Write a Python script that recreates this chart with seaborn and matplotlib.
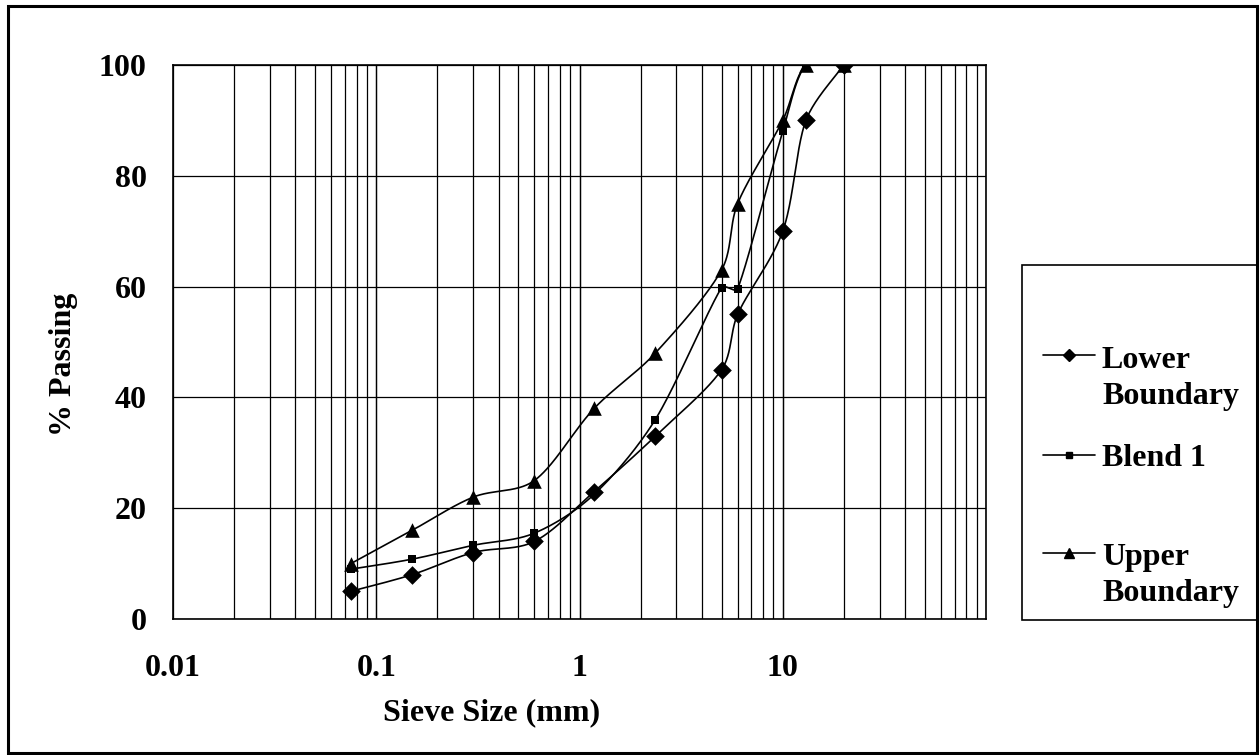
import numpy as np
import pandas as pd
import matplotlib
matplotlib.use("Agg")
import matplotlib.pyplot as plt
from matplotlib.ticker import LogLocator, NullFormatter, FixedLocator
from matplotlib.patches import Rectangle
from matplotlib.lines import Line2D
import seaborn as sns

# Sieve sizes (mm) and percentage passing for each gradation
sieve_mm = [0.075, 0.15, 0.3, 0.6, 1.18, 2.36, 5, 6, 10, 13, 20]
lower_boundary = [5, 8, 12, 14, 23, 33, 45, 55, 70, 90, 100]
blend_1 = [9, 10.8, 13.3, 15.5, 22.5, 36, 59.8, 59.6, 88, 100, 100]
upper_boundary = [10, 16, 22, 25, 38, 48, 63, 75, 90, 100, 100]

series_names = ["Lower\nBoundary", "Blend 1", "Upper\nBoundary"]
x_tick_values = [0.01, 0.1, 1, 10]
x_tick_labels = ["0.01", "0.1", "1", "10"]
y_tick_values = [0, 20, 40, 60, 80, 100]

sns.set_theme(style="white")
plt.rcParams["font.family"] = ["Liberation Serif", "DejaVu Serif"]
plt.rcParams["font.weight"] = "bold"

FS = 23
W, H = 1260, 755


def smooth_curve(xs, ys, n=40, sx=203.0, sy=5.55):
    """Bezier smoothing (Catmull-Rom style) in log-x screen-like space."""
    P = np.column_stack([np.log10(xs) * sx, np.asarray(ys, float) * sy])
    out = []
    t = np.linspace(0, 1, n)[:, None]
    for i in range(len(P) - 1):
        p0 = P[i - 1] if i > 0 else P[i]
        p1, p2 = P[i], P[i + 1]
        p3 = P[i + 2] if i + 2 < len(P) else P[i + 1]
        d = np.linalg.norm(p2 - p1)
        t1 = (p2 - p0) / 6.0
        t2 = (p3 - p1) / 6.0
        # keep handles no longer than a third of the segment to avoid loops
        for tv in (t1, t2):
            nrm = np.linalg.norm(tv)
            if nrm > d / 3.0 and nrm > 0:
                tv *= (d / 3.0) / nrm
        c1 = p1 + t1
        c2 = p2 - t2
        seg = (1 - t) ** 3 * p1 + 3 * (1 - t) ** 2 * t * c1 + 3 * (1 - t) * t ** 2 * c2 + t ** 3 * p2
        out.append(seg if i == 0 else seg[1:])
    S = np.vstack(out)
    return 10 ** (S[:, 0] / sx), S[:, 1] / sy


fig = plt.figure(figsize=(W / 100, H / 100), dpi=100)
fig.patch.set_facecolor("white")

# plot area in pixel positions
L, R, T, B = 173, 986, 65, 619
ax = fig.add_axes([L / W, 1 - B / H, (R - L) / W, (B - T) / H])
ax.set_facecolor("white")

marker_styles = {"Lower\nBoundary": ("D", 9.5), "Blend 1": ("s", 5.5), "Upper\nBoundary": ("^", 10.5)}
values = {"Lower\nBoundary": lower_boundary, "Blend 1": blend_1, "Upper\nBoundary": upper_boundary}

for name in series_names:
    ys = values[name]
    cx, cy = smooth_curve(sieve_mm, ys)
    curve = pd.DataFrame({"size": cx, "passing": cy})
    sns.lineplot(data=curve, x="size", y="passing", sort=False, estimator=None,
                 color="black", lw=1.2, ax=ax, zorder=3)
    pts = pd.DataFrame({"size": sieve_mm, "passing": ys})
    m, ms = marker_styles[name]
    sns.scatterplot(data=pts, x="size", y="passing", marker=m, s=ms ** 2,
                    color="black", edgecolor="black", linewidth=0, ax=ax, zorder=4)

ax.set_xscale("log")
ax.set_xlim(0.01, 100)
ax.set_ylim(0, 100)

ax.xaxis.set_major_locator(FixedLocator(x_tick_values))
ax.set_xticklabels(x_tick_labels)
ax.xaxis.set_minor_locator(LogLocator(base=10, subs=np.arange(2, 10)))
ax.xaxis.set_minor_formatter(NullFormatter())
ax.set_yticks(y_tick_values)
ax.set_yticklabels([str(v) for v in y_tick_values])

# vertical grid at every decade and subdivision, including the right edge
for dec in [0.01, 0.1, 1, 10]:
    for k in range(1, 11):
        ax.axvline(dec * k, color="black", lw=0.9, zorder=1)
for v in y_tick_values:
    ax.axhline(v, color="black", lw=0.9, zorder=1)

ax.tick_params(axis="both", which="major", direction="out", length=9, width=1.2,
               color="black", labelsize=FS, labelcolor="black")
ax.tick_params(axis="x", which="major", pad=16)
ax.tick_params(axis="y", which="major", pad=10)
ax.tick_params(axis="x", which="minor", length=0)
for lab in ax.get_xticklabels() + ax.get_yticklabels():
    lab.set_fontweight("bold")

for side in ["left", "bottom", "top", "right"]:
    ax.spines[side].set_visible(True)
    ax.spines[side].set_color("black")
    ax.spines[side].set_linewidth(1.2)

ax.set_xlabel("Sieve Size (mm)", fontsize=FS, fontweight="bold", color="black")
ax.set_ylabel("% Passing", fontsize=FS, fontweight="bold", color="black")
ax.xaxis.set_label_coords((492 - L) / (R - L), -(713 - B) / (B - T))
ax.yaxis.set_label_coords((63 - L) / (R - L), (B - 364) / (B - T))
ax.xaxis.label.set_va("center")
ax.yaxis.label.set_va("center")

# outer chart border
fig.patches.append(Rectangle((8 / W, 1 - 753 / H), (1257 - 8) / W, (753 - 6) / H,
                             transform=fig.transFigure, fill=False,
                             edgecolor="black", lw=2.2, zorder=10))

# legend box with entries
lg_l, lg_r, lg_t, lg_b = 1022, 1257, 265, 620
fig.patches.append(Rectangle((lg_l / W, 1 - lg_b / H), (lg_r - lg_l) / W, (lg_b - lg_t) / H,
                             transform=fig.transFigure, fill=True, facecolor="white",
                             edgecolor="black", lw=1.2, zorder=9))

# (label, handle y, baseline of last text line, marker, marker size)
legend_rows = [("Lower\nBoundary", 355, 404, "D", 6),
               ("Blend 1", 455, 466, "s", 4),
               ("Upper\nBoundary", 553, 601, "^", 7)]
for label, y_line, y_base, m, ms in legend_rows:
    fy = 1 - y_line / H
    fig.add_artist(Line2D([1043 / W, 1095 / W], [fy, fy], transform=fig.transFigure,
                          color="black", lw=1.2, zorder=11))
    fig.add_artist(Line2D([1069 / W], [fy], transform=fig.transFigure, marker=m,
                          markersize=ms, color="black", lw=0, zorder=12))
    fig.text(1102 / W, 1 - y_base / H, label, fontsize=FS, fontweight="bold",
             color="black", ha="left", va="baseline", linespacing=1.33, zorder=12)

fig.savefig("out.png", dpi=100, facecolor="white")
